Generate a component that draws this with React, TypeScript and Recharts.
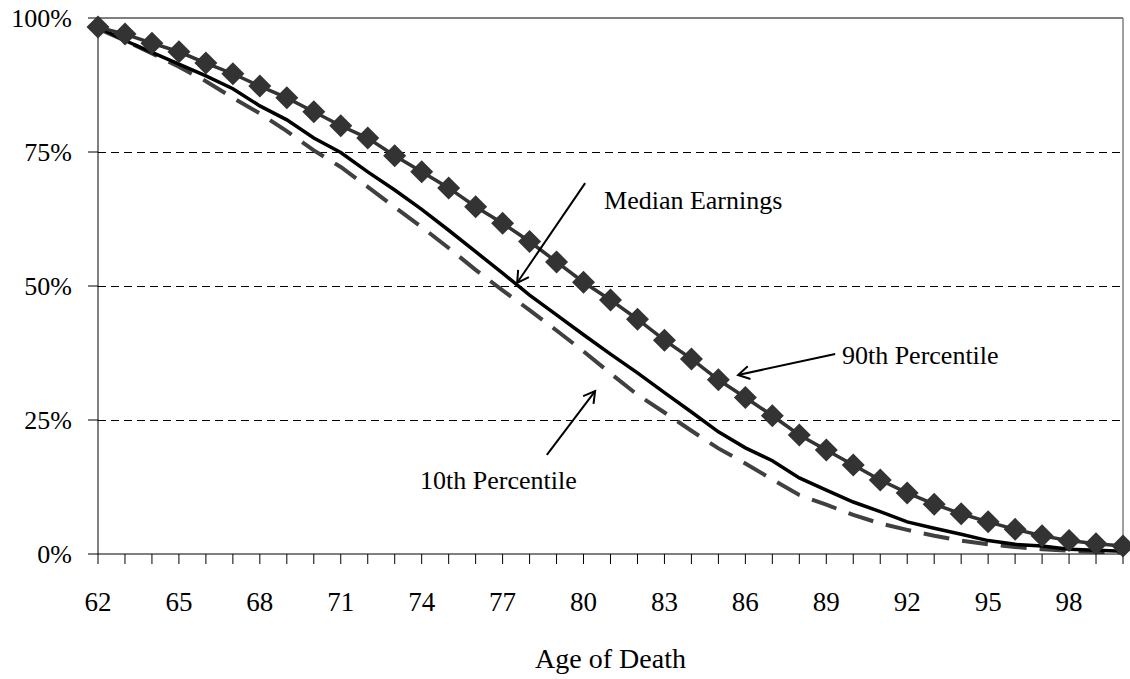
import React from "react";
import {
    LineChart,
    Line,
    XAxis,
    YAxis,
    CartesianGrid,
    ReferenceLine,
    ReferenceDot,
} from "recharts";

// ages on the x axis (one point per year)
const ages = [
    62, 63, 64, 65, 66, 67, 68, 69, 70, 71, 72, 73, 74, 75, 76, 77, 78, 79, 80, 81,
    82, 83, 84, 85, 86, 87, 88, 89, 90, 91, 92, 93, 94, 95, 96, 97, 98, 99, 100,
];

// share still alive, in percent
const pct90 = [
    98.3, 97.0, 95.3, 93.7, 91.6, 89.6, 87.3, 85.1, 82.5, 79.9, 77.6, 74.3, 71.3, 68.3,
    64.8, 61.7, 58.3, 54.5, 50.7, 47.4, 43.8, 39.9, 36.4, 32.5, 29.2, 25.8, 22.2, 19.4,
    16.6, 13.8, 11.4, 9.3, 7.5, 6.0, 4.6, 3.4, 2.5, 1.9, 1.5,
];
const medianEarn = [
    98.3, 95.8, 93.6, 91.4, 89.2, 86.8, 83.6, 81.0, 77.6, 74.9, 71.3, 67.9, 64.3, 60.4,
    56.4, 52.4, 48.3, 44.6, 40.9, 37.3, 33.8, 30.1, 26.5, 22.8, 19.8, 17.4, 14.2, 11.9,
    9.7, 7.9, 6.0, 4.8, 3.7, 2.5, 1.8, 1.5, 0.9, 0.7, 0.5,
];
const pct10 = [
    98.0, 95.8, 93.4, 90.9, 88.2, 85.1, 82.2, 78.9, 75.3, 72.2, 68.5, 64.7, 61.0, 57.1,
    53.0, 49.2, 45.5, 41.7, 37.8, 33.7, 29.7, 26.4, 23.0, 19.7, 16.9, 13.9, 11.0, 9.2,
    7.3, 5.7, 4.5, 3.4, 2.5, 1.8, 1.3, 0.9, 0.6, 0.4, 0.3,
];

const xTickLabels = [62, 65, 68, 71, 74, 77, 80, 83, 86, 89, 92, 95, 98];
const yTicks = [0, 25, 50, 75, 100];

// callouts: text anchor + arrow (from -> tip), in chart units
const notes = [
    { text: "Median Earnings", tx: 80.76, ty: 66.0, from: [80.06, 69.2], to: [77.54, 50.6] },
    { text: "90th Percentile", tx: 89.58, ty: 37.1, from: [89.33, 37.3], to: [85.73, 33.4] },
    { text: "10th Percentile", tx: 73.94, ty: 13.8, from: [78.64, 18.5], to: [80.43, 30.4] },
];

const FONT = "'Liberation Serif', 'Times New Roman', serif";

const data = ages.map((age, i) => ({
    age,
    p90: pct90[i],
    median: medianEarn[i],
    p10: pct10[i],
}));

const Diamond = (p: any) => {
    const { cx, cy, index } = p;
    if (cx == null || cy == null) return <g key={index} />;
    const r = 11.5;
    return (
        <path
            key={index}
            d={`M${cx},${cy - r}L${cx + r},${cy}L${cx},${cy + r}L${cx - r},${cy}Z`}
            fill="#333333"
        />
    );
};

const Arrow = (p: any) => {
    const { x1, y1, x2, y2 } = p;
    const a = Math.atan2(y2 - y1, x2 - x1);
    const len = 13;
    const spread = Math.PI / 6;
    const ax = x2 - len * Math.cos(a - spread);
    const ay = y2 - len * Math.sin(a - spread);
    const bx = x2 - len * Math.cos(a + spread);
    const by = y2 - len * Math.sin(a + spread);
    return (
        <g>
            <line x1={x1} y1={y1} x2={x2} y2={y2} stroke="#000" strokeWidth={2} />
            <polyline
                points={`${ax},${ay} ${x2},${y2} ${bx},${by}`}
                fill="none"
                stroke="#000"
                strokeWidth={2}
            />
        </g>
    );
};

export default function App() {
    return (
        <div style={{ position: "absolute", left: 0, top: 0, background: "#fff" }}>
            <LineChart
                width={1130}
                height={679}
                data={data}
                margin={{ top: 18, right: 7, bottom: 0, left: 0 }}
            >
                <CartesianGrid
                    vertical={false}
                    stroke="#000"
                    strokeOpacity={1}
                    strokeDasharray="8 5"
                    shapeRendering="crispEdges"
                    horizontalValues={[25, 50, 75]}
                />
                <XAxis
                    dataKey="age"
                    type="number"
                    domain={[62, 100]}
                    ticks={ages}
                    interval={0}
                    height={125}
                    tickSize={10}
                    tickMargin={28}
                    stroke="#000"
                    tickFormatter={(v: number) => (xTickLabels.includes(v) ? String(v) : "")}
                    tick={{ fontFamily: FONT, fontSize: 27, fill: "#000" }}
                    label={{
                        value: "Age of Death",
                        position: "insideBottom",
                        offset: 11,
                        fontFamily: FONT,
                        fontSize: 28,
                        fill: "#000",
                    }}
                />
                <YAxis
                    domain={[0, 100]}
                    ticks={yTicks}
                    width={98}
                    tickSize={10}
                    tickMargin={16}
                    stroke="#000"
                    tickFormatter={(v: number) => `${v}%`}
                    tick={{ fontFamily: FONT, fontSize: 26, fill: "#000" }}
                />
                <ReferenceLine y={100} stroke="#555" strokeWidth={1.5} />
                <ReferenceLine x={100} stroke="#808080" strokeWidth={1.5} />
                <Line
                    dataKey="p10"
                    type="linear"
                    stroke="#404040"
                    strokeWidth={4}
                    strokeDasharray="26 13"
                    dot={false}
                    isAnimationActive={false}
                />
                <Line
                    dataKey="median"
                    type="linear"
                    stroke="#000"
                    strokeWidth={3.5}
                    dot={false}
                    isAnimationActive={false}
                />
                <Line
                    dataKey="p90"
                    type="linear"
                    stroke="#333333"
                    strokeWidth={3.5}
                    dot={Diamond}
                    activeDot={false}
                    isAnimationActive={false}
                />
                {notes.map((n) => (
                    <ReferenceLine
                        key={"a" + n.text}
                        segment={[
                            { x: n.from[0], y: n.from[1] },
                            { x: n.to[0], y: n.to[1] },
                        ]}
                        shape={Arrow}
                    />
                ))}
                {notes.map((n) => (
                    <ReferenceDot
                        key={"t" + n.text}
                        x={n.tx}
                        y={n.ty}
                        r={0}
                        shape={(p: any) => (
                            <text
                                x={p.cx}
                                y={p.cy}
                                dy="0.35em"
                                fontFamily={FONT}
                                fontSize={26}
                                fill="#000"
                            >
                                {n.text}
                            </text>
                        )}
                    />
                ))}
            </LineChart>
        </div>
    );
}
